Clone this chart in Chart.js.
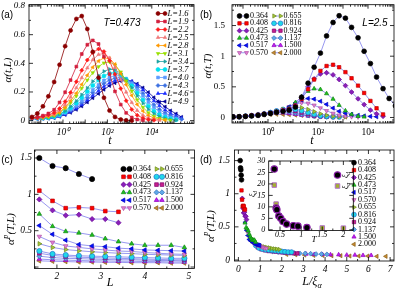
<!DOCTYPE html>
<html>
<head>
<meta charset="utf-8">
<script src="https://cdn.jsdelivr.net/npm/chart.js@4.4.1/dist/chart.umd.min.js"></script>
<style>
html, body { margin: 0; padding: 0; background: #fff; }
#wrap { position: relative; width: 399px; height: 291px; overflow: hidden; background: #fff; }
#wrap canvas { position: absolute; left: 0; top: 0; }
</style>
</head>
<body>
<div id="wrap">
<canvas id="ca" width="399" height="291"></canvas>
<canvas id="cb" width="399" height="291"></canvas>
<canvas id="cc" width="399" height="291"></canvas>
<canvas id="cd" width="399" height="291"></canvas>
<canvas id="ci" width="399" height="291"></canvas>
</div>
<script>
// ---- data ----
const T_GRID = [0.04, 0.07, 0.125, 0.22, 0.4, 0.7, 1.25, 2.2, 4, 7, 12.5, 22, 40, 70, 125, 220,
  400, 700, 1250, 2200, 4000, 7000, 12500, 22000, 40000, 70000, 125000, 220000];
const L_SIZES = [1.6, 1.9, 2.2, 2.5, 2.8, 3.1, 3.4, 3.7, 4.0, 4.3, 4.6, 4.9];
const TEMPS = ['0.364', '0.408', '0.425', '0.473', '0.517', '0.570', '0.655', '0.816', '0.924', '1.137', '1.500', '2.000'];

// (a) alpha(t,L) at T=0.473, one row per L
const ALPHA_TL = [
  [.026,.05,.10,.17,.27,.39,.52,.63,.71,.73,.64,.48,.30,.16,.07,.026,.008,.002,0],
  [.02,.025,.035,.05,.076,.127,.198,.283,.377,.465,.53,.56,.535,.447,.325,.204,.112,.054,.022,.008,.002],
  [.02,.02,.03,.04,.055,.084,.133,.196,.272,.351,.423,.476,.50,.482,.418,.324,.224,.139,.078,.038,.017,.007,.002],
  [.02,.02,.025,.035,.045,.07,.111,.164,.229,.299,.368,.425,.461,.47,.438,.371,.285,.199,.126,.071,.037,.018,.008,.003],
  [.02,.02,.022,.03,.04,.059,.093,.138,.192,.253,.317,.373,.416,.438,.433,.394,.328,.251,.176,.113,.067,.036,.018,.008,.003],
  [.02,.02,.02,.025,.035,.055,.086,.124,.172,.226,.283,.335,.377,.403,.41,.388,.34,.276,.207,.145,.093,.055,.03,.015,.007,.003],
  [.02,.018,.02,.022,.03,.045,.068,.099,.137,.181,.228,.274,.314,.344,.359,.356,.329,.285,.23,.173,.122,.079,.049,.028,.015,.007,.003],
  [.018,.018,.018,.02,.027,.042,.062,.089,.123,.161,.203,.245,.283,.312,.33,.335,.32,.288,.243,.193,.144,.101,.066,.041,.024,.013,.006],
  [.016,.016,.017,.019,.025,.036,.054,.077,.105,.139,.176,.214,.25,.281,.303,.314,.312,.293,.26,.218,.173,.129,.092,.061,.038,.023,.013],
  [.015,.015,.016,.018,.023,.035,.051,.072,.098,.127,.161,.196,.23,.26,.283,.296,.30,.289,.265,.23,.19,.149,.111,.078,.053,.034,.02,.009],
  [.014,.014,.015,.017,.021,.031,.045,.064,.086,.113,.144,.176,.208,.238,.263,.28,.289,.288,.273,.247,.214,.176,.138,.104,.074,.05,.033,.016],
  [.013,.013,.014,.015,.019,.028,.041,.056,.077,.101,.128,.158,.188,.217,.243,.263,.276,.28,.274,.257,.23,.198,.162,.128,.097,.07,.048,.025]
];

// (b) alpha(t,T) at L=2.5, one row per T
const ALPHA_TT = [
  [.01,.012,.018,.025,.035,.05,.065,.085,.10,.12,.17,.33,.56,.82,1.05,1.33,1.55,1.66,1.62,1.47,1.30,1.08,.88,.66,.47,.31,.19],
  [.01,.012,.02,.03,.04,.055,.07,.09,.11,.13,.19,.30,.46,.62,.76,.84,.86,.82,.74,.64,.52,.40,.27,.15,.05],
  [.01,.012,.02,.03,.04,.055,.07,.09,.11,.14,.20,.33,.50,.63,.71,.73,.695,.62,.52,.415,.305,.21,.12,.06,.02],
  [.01,.012,.02,.03,.04,.055,.07,.09,.11,.153,.245,.341,.429,.469,.457,.39,.30,.20,.11,.05,.02,.01],
  [.01,.012,.02,.03,.04,.055,.07,.085,.116,.175,.237,.285,.31,.30,.265,.214,.153,.10,.07,.05,.035,.025,.018,.012],
  [.01,.012,.02,.03,.04,.055,.07,.085,.125,.176,.219,.24,.232,.20,.155,.11,.067,.037,.02,.012,.008],
  [.01,.012,.02,.03,.04,.055,.07,.094,.132,.159,.17,.16,.132,.096,.061,.036,.02,.012,.008],
  [.01,.012,.02,.03,.04,.055,.079,.107,.131,.14,.131,.11,.079,.05,.028,.016,.01,.008],
  [.01,.012,.02,.03,.04,.058,.083,.105,.119,.117,.102,.079,.052,.031,.018,.012,.008],
  [.01,.012,.02,.03,.044,.065,.085,.097,.099,.09,.073,.053,.034,.02,.013,.01,.008],
  [.01,.014,.024,.036,.051,.066,.076,.08,.076,.066,.051,.036,.024,.016,.012,.009],
  [.01,.015,.022,.03,.038,.045,.05,.052,.05,.046,.04,.034,.028,.022,.018,.014,.012,.01,.008]
];

// (c) plateau alpha^P(T,L), one row per T over L_SIZES
const ALPHA_P = [
  [1.50,1.39,1.36,1.28,1.21],
  [1.05,.91,.81,.82,.81,.77,.76],
  [.93,.78,.71,.72,.66,.66,.61],
  [.73,.56,.49,.47,.44,.39,.35,.32,.30,.30,.30,.27],
  [.57,.45,.37,.31,.29,.28,.26,.25,.235,.23,.225,.22],
  [.42,.34,.29,.27,.25,.235,.22,.215,.20,.19,.18,.175],
  [.32,.27,.24,.225,.21,.20,.19,.185,.175,.17,.165,.16],
  [.22,.18,.165,.155,.15,.145,.14,.135,.13,.125,.12,.12],
  [.19,.16,.145,.135,.13,.125,.12,.115,.11,.105,.10,.10],
  [.15,.13,.12,.115,.11,.105,.10,.10,.095,.09,.09,.085],
  [.11,.10,.095,.09,.085,.085,.08,.08,.075,.075,.07,.07],
  [.085,.08,.075,.07,.07,.065,.065,.06,.06,.06,.055,.055]
];

// inset of (d): length scales vs T
const T_VALUES = [0.364, 0.408, 0.425, 0.473, 0.517, 0.570, 0.655, 0.816, 0.924, 1.137, 1.500, 2.000];
const XI_D = [26.5, 9.5, 8.8, 6.0, 5.0, 3.6, 2.5, 1.8, 1.6, 1.0];
const XI_ALPHA = [19.5, 11.2, 9.0, 6.2, 5.0, 3.8, 2.6, 2.0, 1.8, 1.2, 0.8, 0.72];

// tick labels
const A_XTICKS = [1, 100, 10000];
const LOG_LABELS = {1: '10⁰', 100: '10²', 10000: '10⁴'};
const A_YTICKS = [0, 0.2, 0.4, 0.6, 0.8];
const B_YTICKS = [0, 0.5, 1, 1.5];
const C_XTICKS = [2, 3, 4, 5];
const C_YTICKS = [0.5, 1, 1.5];
const D_XTICKS = [0, 1, 2, 3, 4, 5, 6, 7];
const D_YTICKS = [0, 0.5, 1, 1.5];
const IN_XTICKS = [0.5, 1, 1.5, 2];
const IN_YTICKS = [0, 5, 10, 15, 20, 25, 30];

// ---- styles ----
const A_COLORS = ['#8b0000','#d21f3c','#ff1a1a','#f07a7a','#ff9900','#99e000','#1fa3a3','#00e0f0','#5b9bff','#3b6fe0','#1a2cff','#000099'];
const T_FILL = ['#000000','#ff0000','#8a1fb8','#20c020','#0010ff','#e080d0','#a8c838','#20d8e8','#c8208c','#60a8e8','#c020f0','#c88a30'];
const T_EDGE = ['#000000','#c00000','#6a0898','#108a10','#0000c0','#b050a8','#6a8a18','#2070d0','#800070','#3070b8','#9000c0','#886018'];
const MARKS = [['circle',0],['rect',0],['rectRot',0],['triangle',0],['triangle',-90],['triangle',180],
  ['triangle',90],['circle',0],['rect',0],['rectRot',0],['triangle',0],['triangle',-90]];
const LINE_BLUE = '#7d7dec';

const W = 399, H = 291, YW = 20, XH = 14;
const SERIF = '"Liberation Serif"', SANS = '"Liberation Sans"';

function rich(ctx, parts, size, fam, align) {
  const f = fl => (fl.includes('i') ? 'italic ' : '') + ((fl.includes('^') || fl.includes('_')) ? size * 0.68 : size) + 'px ' + fam;
  let w = 0;
  parts.forEach(([t, fl]) => { ctx.font = f(fl || ''); w += ctx.measureText(t).width; });
  let x = align === 'left' ? 0 : -w / 2;
  ctx.fillStyle = '#000'; ctx.textAlign = 'left'; ctx.textBaseline = 'middle';
  parts.forEach(([t, fl]) => {
    fl = fl || '';
    ctx.font = f(fl);
    ctx.fillText(t, x, fl.includes('^') ? -size * 0.35 : fl.includes('_') ? size * 0.28 : 0);
    x += ctx.measureText(t).width;
  });
}

// box + inward ticks on all four sides
const frame = {
  id: 'frame',
  afterDatasetsDraw(chart, args, o) {
    const {ctx, chartArea: a} = chart;
    const sx = chart.scales.x, sy = chart.scales.y;
    ctx.save();
    ctx.strokeStyle = '#000'; ctx.lineWidth = 0.8;
    ctx.beginPath();
    const mark = (vals, len, horiz) => (vals || []).forEach(v => {
      if (horiz) {
        const p = sx.getPixelForValue(v);
        if (p < a.left || p > a.right) return;
        ctx.moveTo(p, a.bottom); ctx.lineTo(p, a.bottom - len);
        ctx.moveTo(p, a.top); ctx.lineTo(p, a.top + len);
      } else {
        const p = sy.getPixelForValue(v);
        if (p < a.top || p > a.bottom) return;
        ctx.moveTo(a.left, p); ctx.lineTo(a.left + len, p);
        ctx.moveTo(a.right, p); ctx.lineTo(a.right - len, p);
      }
    });
    mark(o.xt, 4, true); mark(o.xm, 2, true); mark(o.yt, 4, false); mark(o.ym, 2, false);
    ctx.stroke();
    ctx.strokeRect(a.left, a.top, a.right - a.left, a.bottom - a.top);
    ctx.restore();
  }
};

// legend boxes drawn inside the plot, marker-line-marker style
const keyBox = {
  id: 'keyBox',
  afterDraw(chart, args, o) {
    if (!o.cols) return;
    const ctx = chart.ctx;
    o.cols.forEach(c => {
      for (let k = 0; k < c.n; k++) {
        const ds = chart.data.datasets[c.from + k];
        const y = c.y + k * o.dy;
        ctx.save();
        if (c.m2) {
          ctx.strokeStyle = ds.borderColor; ctx.lineWidth = 0.8;
          ctx.beginPath(); ctx.moveTo(c.m1, y); ctx.lineTo(c.m2, y); ctx.stroke();
        }
        [c.m1, c.m2].filter(Boolean).forEach(px => {
          ctx.fillStyle = ds.pointBackgroundColor; ctx.strokeStyle = ds.pointBorderColor;
          ctx.lineWidth = ds.pointBorderWidth;
          Chart.helpers.drawPoint(ctx, {pointStyle: ds.pointStyle, rotation: ds.pointRotation || 0,
            radius: o.r || ds.pointRadius, borderWidth: ds.pointBorderWidth}, px, y);
        });
        ctx.translate(c.tx, y);
        if (o.rot) ctx.rotate(o.rot * Math.PI / 180);
        rich(ctx, ds.keyParts || [[ds.label, o.ital ? 'i' : '']], o.size, SERIF, o.rot ? 'center' : 'left');
        ctx.restore();
      }
    });
  }
};

// titles and annotations
const notes = {
  id: 'notes',
  afterDraw(chart, args, o) {
    const ctx = chart.ctx;
    (o.items || []).forEach(it => {
      ctx.save();
      ctx.translate(it.x, it.y);
      if (it.rot) ctx.rotate(it.rot * Math.PI / 180);
      rich(ctx, it.parts, it.size, it.fam || SERIF, 'center');
      ctx.restore();
    });
  }
};

function axis(type, min, max, ticks, isX, font, pad, fmt) {
  return {
    type, min, max, position: isX ? 'bottom' : 'left',
    grid: {display: false, drawTicks: false},
    border: {display: false},
    afterBuildTicks: s => { s.ticks = ticks.map(v => ({value: v})); },
    afterFit: s => {
      if (isX) s.height = XH; else s.width = YW;
      s.paddingTop = s.paddingBottom = s.paddingLeft = s.paddingRight = 0;
    },
    ticks: {color: '#000', font, padding: pad, autoSkip: false, maxRotation: 0, minRotation: 0,
      callback: fmt || (v => String(v))}
  };
}

function panel(id, box, scales, datasets, plug) {
  return new Chart(document.getElementById(id), {
    type: 'scatter',
    data: {datasets},
    options: {
      responsive: false, animation: false, events: [],
      layout: {padding: {left: box[0] - YW, top: box[1], right: W - box[2], bottom: H - box[3] - XH}},
      scales,
      plugins: Object.assign({legend: {display: false}, tooltip: {enabled: false}}, plug)
    },
    plugins: [frame, keyBox, notes]
  });
}

const ital = s => ({family: SERIF, size: s, style: 'italic'});
const upr = s => ({family: SERIF, size: s});
const logMinor = [];
[-2, -1, 0, 1, 2, 3, 4, 5].forEach(e => { for (let m = 2; m < 10; m++) logMinor.push(m * Math.pow(10, e)); });

// ---- (a) ----
const dsA = L_SIZES.map((L, k) => ({
  label: 'L=' + L.toFixed(1),
  data: ALPHA_TL[k].map((v, i) => ({x: T_GRID[i], y: v})),
  showLine: true, borderColor: A_COLORS[k], borderWidth: 0.8, backgroundColor: A_COLORS[k],
  pointBackgroundColor: A_COLORS[k], pointBorderColor: A_COLORS[k], pointBorderWidth: 0.6,
  pointRadius: 2, pointStyle: MARKS[k][0], pointRotation: MARKS[k][1]
}));
panel('ca', [29, 3, 194, 123.5], {
  x: axis('logarithmic', 0.0295, 794000, A_XTICKS, true, ital(9.5), 3, v => LOG_LABELS[v]),
  y: axis('linear', -0.02, 0.81, A_YTICKS, false, ital(9), 4)
}, dsA, {
  frame: {xt: A_XTICKS.concat([0.1, 10, 1000, 100000]), xm: logMinor, yt: A_YTICKS, ym: [0.1, 0.3, 0.5, 0.7]},
  keyBox: {cols: [{from: 0, n: 12, m1: 158, m2: 165, tx: 167.5, y: 13.5}], dy: 8, size: 8.5, ital: true},
  notes: {items: [
    {parts: [['(a)']], x: 7, y: 15, size: 10, fam: SANS},
    {parts: [['T=0.473', 'i']], x: 122, y: 23, size: 10, fam: SANS},
    {parts: [['α(t,L)', 'i']], x: 8.5, y: 70, size: 11, rot: -90},
    {parts: [['t', 'i']], x: 110, y: 141, size: 12}
  ]}
});

// ---- (b) ----
const dsB = TEMPS.map((T, k) => ({
  label: T,
  data: ALPHA_TT[k].map((v, i) => ({x: T_GRID[i], y: v})),
  showLine: true, borderColor: LINE_BLUE, borderWidth: 0.8, backgroundColor: T_FILL[k],
  pointBackgroundColor: T_FILL[k], pointBorderColor: T_EDGE[k], pointBorderWidth: 0.7,
  pointRadius: 2.4, pointStyle: MARKS[k][0], pointRotation: MARKS[k][1]
}));
panel('cb', [232, 2, 394, 123], {
  x: axis('logarithmic', 0.0363, 109600, A_XTICKS, true, upr(9.5), 3.5, v => LOG_LABELS[v]),
  y: axis('linear', -0.09, 1.84, B_YTICKS, false, upr(9), 7)
}, dsB, {
  frame: {xt: A_XTICKS.concat([0.1, 10, 1000, 100000]), xm: logMinor, yt: B_YTICKS, ym: [0.25, 0.75, 1.25, 1.75]},
  keyBox: {cols: [{from: 0, n: 6, m1: 239.5, m2: 246.5, tx: 250, y: 16},
                  {from: 6, n: 6, m1: 274, m2: 280.5, tx: 283.5, y: 16}], dy: 7.35, size: 8},
  notes: {items: [
    {parts: [['(b)']], x: 206, y: 15, size: 10, fam: SANS},
    {parts: [['L=2.5', 'i']], x: 375, y: 23, size: 10, fam: SANS},
    {parts: [['α(t,T)', 'i']], x: 208.5, y: 66, size: 11, rot: -90},
    {parts: [['t', 'i']], x: 312, y: 141, size: 12}
  ]}
});

// ---- (c) ----
const dsC = TEMPS.map((T, k) => ({
  label: T,
  data: ALPHA_P[k].map((v, i) => ({x: L_SIZES[i], y: v})),
  showLine: true, borderColor: LINE_BLUE, borderWidth: 0.8, backgroundColor: T_FILL[k],
  pointBackgroundColor: T_FILL[k], pointBorderColor: T_EDGE[k], pointBorderWidth: 0.7,
  pointRadius: 2.6, pointStyle: MARKS[k][0], pointRotation: MARKS[k][1]
}));
panel('cc', [34.5, 150, 194.5, 268.5], {
  x: axis('linear', 1.49, 5.13, C_XTICKS, true, ital(9.5), 2),
  y: axis('linear', -0.02, 1.61, C_YTICKS, false, ital(9.5), 2.5)
}, dsC, {
  frame: {xt: C_XTICKS, xm: [1.5, 2.5, 3.5, 4.5], yt: [0].concat(C_YTICKS), ym: [0.25, 0.75, 1.25]},
  keyBox: {cols: [{from: 0, n: 6, m1: 123.5, m2: 129.5, tx: 133, y: 169},
                  {from: 6, n: 6, m1: 156.5, m2: 162, tx: 165, y: 169}], dy: 7.8, size: 8},
  notes: {items: [
    {parts: [['(c)']], x: 7, y: 160, size: 10, fam: SANS},
    {parts: [['α', 'i'], ['P', 'i^'], ['(T,L)', 'i']], x: 11.5, y: 229, size: 11, rot: -90},
    {parts: [['L', 'i']], x: 110, y: 283, size: 12}
  ]}
});

// ---- (d) ----
const dsD = TEMPS.map((T, k) => ({
  label: T,
  data: ALPHA_P[k].map((v, i) => ({x: L_SIZES[i] / XI_ALPHA[k], y: v})),
  showLine: false, borderColor: T_EDGE[k], backgroundColor: T_FILL[k],
  pointBackgroundColor: T_FILL[k], pointBorderColor: T_EDGE[k], pointBorderWidth: 0.7,
  pointRadius: 2.4, pointStyle: MARKS[k][0], pointRotation: MARKS[k][1]
}));
panel('cd', [234.5, 150, 394, 261], {
  x: axis('linear', -0.18, 7.18, D_XTICKS, true, ital(9.5), 3),
  y: axis('linear', -0.015, 1.66, D_YTICKS, false, ital(9.5), 4.5)
}, dsD, {
  frame: {xt: D_XTICKS, xm: [0.5, 1.5, 2.5, 3.5, 4.5, 5.5, 6.5], yt: D_YTICKS, ym: [0.25, 0.75, 1.25]},
  keyBox: {cols: [{from: 0, n: 12, m1: 354, tx: 358, y: 162.7}], dy: 7.42, size: 8},
  notes: {items: [
    {parts: [['(d)']], x: 206, y: 160, size: 10, fam: SANS},
    {parts: [['α', 'i'], ['P', 'i^'], ['(T,L)', 'i']], x: 211.5, y: 226, size: 11, rot: -90},
    {parts: [['L/ξ', 'i'], ['α', 'i_']], x: 312, y: 282, size: 12}
  ]}
});

// ---- inset of (d) ----
const dsI = [
  {label: 'ξd', keyParts: [['ξ', 'i'], ['d', 'i_']],
   data: XI_D.map((v, i) => ({x: T_VALUES[i], y: v})),
   showLine: false, borderColor: '#8a1fa8', backgroundColor: '#000',
   pointBackgroundColor: '#000', pointBorderColor: '#8a1fa8', pointBorderWidth: 1.2,
   pointRadius: 3.2, pointStyle: 'circle', pointRotation: 0},
  {label: 'ξα', keyParts: [['ξ', 'i'], ['α', 'i_']],
   data: XI_ALPHA.map((v, i) => ({x: T_VALUES[i], y: v})),
   showLine: false, borderColor: '#b070c8', backgroundColor: '#a4b030',
   pointBackgroundColor: '#a4b030', pointBorderColor: '#b070c8', pointBorderWidth: 1,
   pointRadius: 3.2, pointStyle: 'rect', pointRotation: 0}
];
panel('ci', [268.7, 161, 353.3, 230.5], {
  x: axis('linear', 0.232, 2.235, IN_XTICKS, true, ital(8), 0),
  y: axis('linear', -0.3, 30, IN_YTICKS, false, ital(8), 3.5)
}, dsI, {
  frame: {xt: IN_XTICKS, xm: [0.75, 1.25, 1.75], yt: IN_YTICKS, ym: []},
  keyBox: {cols: [{from: 0, n: 2, m1: 337.5, tx: 346, y: 175}], dy: 11, size: 8, rot: -90},
  notes: {items: [
    {parts: [['ξ', 'i'], ['d', 'i_']], x: 253, y: 194, size: 8, rot: -90},
    {parts: [['T', 'i']], x: 314, y: 240, size: 9}
  ]}
});
</script>
</body>
</html>
